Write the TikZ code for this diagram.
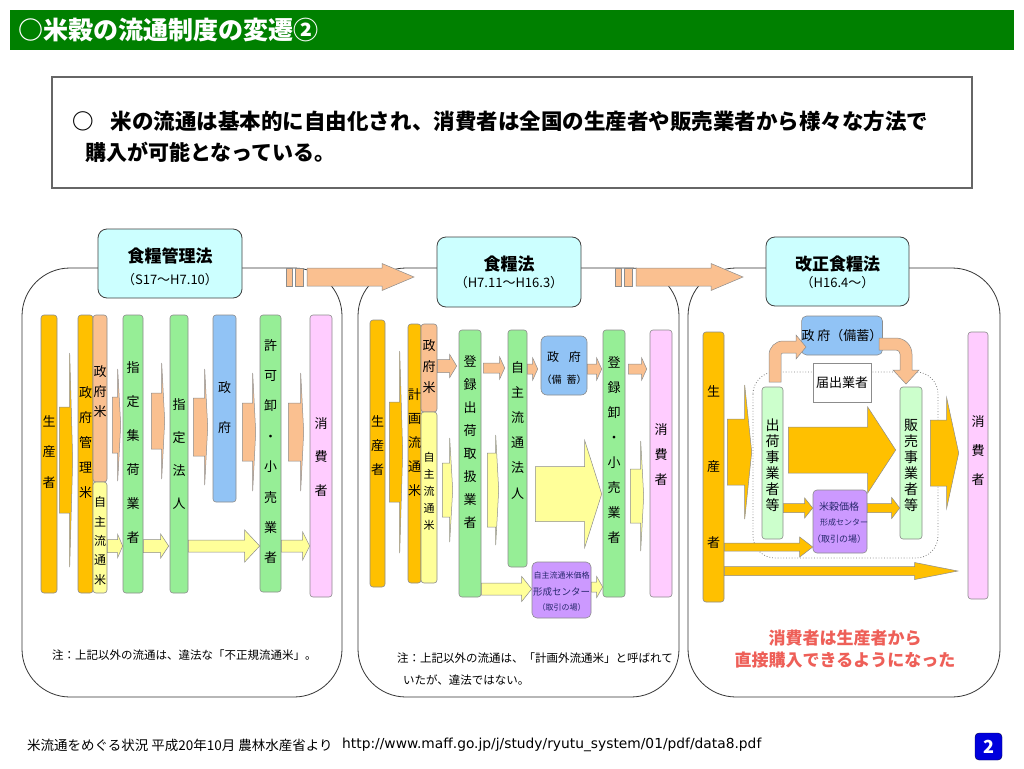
\documentclass[tikz,border=0pt]{standalone}
\usepackage{fontspec}
\setmainfont{Noto Sans CJK JP}
\newfontfamily\urlfont{DejaVu Sans}
\usetikzlibrary{calc}

\definecolor{ttlgreen}{RGB}{0,128,0}
\definecolor{orng}{RGB}{255,192,0}
\definecolor{peach}{RGB}{250,192,144}
\definecolor{lyel}{RGB}{255,255,153}
\definecolor{grn}{RGB}{150,238,150}
\definecolor{lgrn}{RGB}{204,255,204}
\definecolor{blu}{RGB}{145,195,245}
\definecolor{pnk}{RGB}{255,204,255}
\definecolor{purp}{RGB}{204,153,255}
\definecolor{cyn}{RGB}{204,255,255}
\definecolor{redtxt}{RGB}{238,95,88}
\definecolor{pgblue}{RGB}{0,0,220}
\definecolor{ctrtxt}{RGB}{40,40,110}

\tikzset{
	%bars, boxes and block arrows
	bar/.style = {draw=black!45, line width=0.6pt, rounded corners=3pt, inner sep=0pt},
	vt/.style 2 args = {align=center, inner sep=0pt, font=\fontsize{#1}{#2}\selectfont},
	flw/.style = {draw=black!45, line width=0.5pt},
	frm/.style = {draw=black!80, line width=0.8pt, rounded corners=48pt},
	hdr/.style = {draw=black!75, fill=cyn, line width=0.8pt, rounded corners=9pt, inner sep=0pt},
	note/.style = {anchor=west, inner sep=0pt, font=\fontsize{11.5}{11.5}\selectfont},
	ctr/.style = {inner sep=0pt, text=ctrtxt}
}

% bar from (x1,y1) to (x2,y2)
\newcommand\colbar[6]{%
	\node[bar, fill=#2, minimum width=#5pt-#3pt, minimum height=#6pt-#4pt]
		(#1) at ({(#3+#5)/2},{(#4+#6)/2}) {};}

% block arrow: colour, from, to, y, gap start, gap end, body half, head half, head length
\newcommand\flowarrow[9]{%
	\path[flw, fill=#1] let \p1=($(#2.east|-0,#4)+(#5,0)$), \p2=($(#3.west|-0,#4)-(#6,0)$) in
		(\x1,\y1+#7pt) -- (\x2-#9pt,\y1+#7pt) -- (\x2-#9pt,\y1+#8pt) -- (\x2,\y1)
		-- (\x2-#9pt,\y1-#8pt) -- (\x2-#9pt,\y1-#7pt) -- (\x1,\y1-#7pt) -- cycle;}

\begin{document}
\begin{tikzpicture}[x=1pt, y=-1pt]
	\useasboundingbox (0,0) rectangle (1024,768);
	\fill[white] (0,0) rectangle (1024,768);

	% title and lead
	\fill[ttlgreen] (10,10) rectangle (1014,50);
	\node[anchor=west, inner sep=0pt, text=white, font=\bfseries\fontsize{25}{25}\selectfont] (ttl) at (18,30) {○米穀の流通制度の変遷②};
	\draw[black!60, line width=1.2pt] (52,77) rectangle (972,188);
	\node[anchor=west, inner sep=0pt, font=\bfseries\fontsize{21.5}{21.5}\selectfont] (lead1) at (72,121) {○\hspace{0.8em}米の流通は基本的に自由化され、消費者は全国の生産者や販売業者から様々な方法で};
	\node[anchor=west, inner sep=0pt, font=\bfseries\fontsize{21}{21}\selectfont] (lead2) at (85,152) {購入が可能となっている。};

	% panels
	\draw[frm] (22,268) rectangle (342,697);
	\draw[frm] (358,268) rectangle (679,697);
	\draw[frm] (688,268) rectangle (1000,697);

	\foreach \x in {286,615}{
		\path[flw, fill=peach] (\x,268) rectangle (\x+6,286);
		\path[flw, fill=peach] (\x+9,268) rectangle (\x+17,286);
		\path[flw, fill=peach] (\x+21,268) -- (\x+96,268) -- (\x+96,263.5) -- (\x+128,277)
			-- (\x+96,290.5) -- (\x+96,286) -- (\x+21,286) -- cycle;
	}

	\node[hdr, minimum width=144pt, minimum height=69pt] (h1) at (170,263.5) {};
	\node[font=\bfseries\fontsize{17}{17}\selectfont] (h1t) at (170,256) {食糧管理法};
	\node[font=\fontsize{13}{13}\selectfont] (h1d) at (170,280) {（S17～H7.10）};
	\node[hdr, minimum width=144pt, minimum height=70pt] (h2) at (509,272) {};
	\node[font=\bfseries\fontsize{17}{17}\selectfont] (h2t) at (509,264) {食糧法};
	\node[font=\fontsize{13}{13}\selectfont] (h2d) at (509,283) {（H7.11～H16.3）};
	\node[hdr, minimum width=143pt, minimum height=69pt] (h3) at (837.5,271.5) {};
	\node[font=\bfseries\fontsize{17}{17}\selectfont] (h3t) at (837.5,264) {改正食糧法};
	\node[font=\fontsize{13}{13}\selectfont] (h3d) at (837.5,283) {（H16.4～）};

	% panel 1
	\colbar{p1prod}{orng}{41}{315}{57}{593}
	\colbar{p1gmr}{orng}{78}{315}{93}{593}
	\colbar{p1gov}{peach}{93}{315}{107}{482}
	\colbar{p1free}{lyel}{93}{482}{107}{593}
	\colbar{p1col}{grn}{123}{315}{143}{593}
	\colbar{p1des}{grn}{170}{315}{188}{593}
	\colbar{p1state}{blu}{213}{315}{236}{502}
	\colbar{p1whl}{grn}{260}{315}{281}{592}
	\colbar{p1con}{pnk}{310}{315}{332}{597}
	\node[vt={13}{30.5}] (p1prodt) at (p1prod |- 0,452) {生\\産\\者};
	\node[vt={13}{25}] (p1gmrt) at (p1gmr |- 0,443) {政\\府\\管\\理\\米};
	\node[vt={13}{20}] (p1govt) at (p1gov |- 0,392) {政\\府\\米};
	\node[vt={12}{19.3}] (p1freet) at (p1free |- 0,541) {自\\主\\流\\通\\米};
	\node[vt={13}{34}] (p1colt) at (p1col |- 0,453) {指\\定\\集\\荷\\業\\者};
	\node[vt={13}{32.7}] (p1dest) at (p1des |- 0,454) {指\\定\\法\\人};
	\node[vt={13}{40}] (p1statet) at (p1state |- 0,408) {政\\府};
	\node[vt={13}{30.4}] (p1whlt) at (p1whl |- 0,451.5) {許\\可\\卸\\・\\小\\売\\業\\者};
	\node[vt={13}{33.5}] (p1cont) at (p1con |- 0,457) {消\\費\\者};

	\flowarrow{orng}{p1prod}{p1gmr}{460}{2}{5}{53}{107}{3}
	\flowarrow{peach}{p1gov}{p1col}{425}{5}{2}{28}{56}{3}
	\flowarrow{lyel}{p1free}{p1col}{546}{0}{0}{6.5}{11.5}{5}
	\flowarrow{peach}{p1col}{p1des}{421}{8}{5}{28}{58}{3}
	\flowarrow{lyel}{p1col}{p1des}{546}{0}{1}{6.5}{12}{8}
	\flowarrow{peach}{p1des}{p1state}{427}{5}{5}{29}{58}{3}
	\flowarrow{peach}{p1state}{p1whl}{432}{6}{4}{29}{59}{3}
	\flowarrow{lyel}{p1des}{p1whl}{546}{0}{0}{6}{16}{15}
	\flowarrow{peach}{p1whl}{p1con}{432}{7}{6}{29}{59}{3}
	\flowarrow{lyel}{p1whl}{p1con}{546}{0}{0}{6}{14}{7}

	\node[note] (p1note) at (52,655) {注：上記以外の流通は、違法な「不正規流通米」。};

	% panel 2
	\colbar{p2prod}{orng}{370}{320}{385}{587}
	\colbar{p2plan}{orng}{408}{324}{421}{583}
	\colbar{p2gov}{peach}{421}{324}{437}{412}
	\colbar{p2free}{lyel}{421}{412}{437}{583}
	\colbar{p2reg}{grn}{459}{330}{481}{597}
	\colbar{p2corp}{grn}{508}{330}{527}{567}
	\colbar{p2whl}{grn}{603}{330}{625}{597}
	\colbar{p2con}{pnk}{650}{330}{672}{597}
	\node[bar, fill=blu, rounded corners=6pt, minimum width=46pt, minimum height=59pt] (p2state) at (564,365.5) {};
	\node[font=\fontsize{12}{12}\selectfont] (p2statet) at (564,357) {政\hspace{0.8em}府};
	\node[font=\fontsize{10}{10}\selectfont] (p2stated) at (564,380) {（備\hspace{0.5em}蓄）};
	\node[bar, fill=purp, rounded corners=5pt, minimum width=59pt, minimum height=56pt] (p2ctr) at (561.5,590) {};
	\node[ctr, font=\fontsize{8}{8}\selectfont] (p2ctr1) at (561.5,575) {自主流通米価格};
	\node[ctr, font=\fontsize{9.5}{9.5}\selectfont] (p2ctr2) at (561.5,592) {形成センター};
	\node[ctr, font=\fontsize{8}{8}\selectfont] (p2ctr3) at (561.5,607) {（取引の場）};

	\node[vt={13}{24}] (p2prodt) at (p2prod |- 0,446) {生\\産\\者};
	\node[vt={13}{24}] (p2plant) at (p2plan |- 0,443) {計\\画\\流\\通\\米};
	\node[vt={13}{21}] (p2govt) at (p2gov |- 0,367) {政\\府\\米};
	\node[vt={11}{17}] (p2freet) at (p2free |- 0,491) {自\\主\\流\\通\\米};
	\node[vt={13}{23}] (p2regt) at (p2reg |- 0,442.5) {登\\録\\出\\荷\\取\\扱\\業\\者};
	\node[vt={13}{25.2}] (p2corpt) at (p2corp |- 0,430) {自\\主\\流\\通\\法\\人};
	\node[vt={13}{25}] (p2whlt) at (p2whl |- 0,450) {登\\録\\卸\\・\\小\\売\\業\\者};
	\node[vt={13}{25}] (p2cont) at (p2con |- 0,455) {消\\費\\者};

	\flowarrow{orng}{p2prod}{p2plan}{452}{4}{5}{50}{101}{3}
	\flowarrow{peach}{p2gov}{p2reg}{366}{0}{2}{6.5}{11.5}{7}
	\flowarrow{lyel}{p2free}{p2reg}{490}{5}{6}{27}{52}{3}
	\flowarrow{peach}{p2reg}{p2corp}{368}{2}{3}{5}{11}{5}
	\flowarrow{lyel}{p2reg}{p2corp}{490}{6}{9}{37}{55}{3}
	\flowarrow{peach}{p2corp}{p2state}{369}{0}{3}{5}{11}{5}
	\flowarrow{peach}{p2state}{p2whl}{369}{0}{1}{5}{11}{5}
	\flowarrow{lyel}{p2corp}{p2whl}{494}{8}{1}{27.5}{53.5}{17}
	\flowarrow{peach}{p2whl}{p2con}{369}{3}{3}{5}{11}{5}
	\flowarrow{lyel}{p2whl}{p2con}{496}{5}{6}{27}{55}{3}
	\flowarrow{lyel}{p2reg}{p2ctr}{589}{0}{0}{6}{12.5}{10}
	\flowarrow{lyel}{p2ctr}{p2whl}{587}{0}{0}{5}{10.5}{6}

	\node[note] (p2note1) at (397,658) {注：上記以外の流通は、「計画外流通米」と呼ばれて};
	\node[note] (p2note2) at (403,680) {いたが、違法ではない。};

	% panel 3
	\draw[black!50, dotted, line width=0.8pt, rounded corners=22pt] (753,372) rectangle (938,558);
	\colbar{p3prod}{orng}{703}{332}{724}{602}
	\colbar{p3ship}{lgrn}{762}{387}{783}{539}
	\colbar{p3sell}{lgrn}{900}{387}{922}{539}
	\colbar{p3con}{pnk}{968}{332}{988}{599}
	\node[bar, fill=blu, rounded corners=5pt, minimum width=74pt, minimum height=39pt, font=\fontsize{13}{13}\selectfont] (p3state) at (842,335.5) {政 府（備蓄）};
	\node[draw=black!45, fill=white, inner sep=0pt, minimum width=58pt, minimum height=39pt, font=\fontsize{13}{13}\selectfont] (p3todoke) at (842,382.5) {届出業者};
	\node[bar, fill=purp, rounded corners=4pt, minimum width=54pt, minimum height=63pt] (p3ctr) at (840,521.5) {};
	\node[ctr, font=\fontsize{10}{10}\selectfont] (p3ctr1) at (839,507) {米穀価格};
	\node[ctr, font=\fontsize{8}{8}\selectfont] (p3ctr2) at (844,522) {形成センター};
	\node[ctr, font=\fontsize{9}{9}\selectfont] (p3ctr3) at (839,539) {（取引の場）};

	\node[vt={13}{75.5}] (p3prodt) at (p3prod |- 0,467) {生\\産\\者};
	\node[vt={14}{16}] (p3shipt) at (p3ship |- 0,465) {出\\荷\\事\\業\\者\\等};
	\node[vt={14}{16}] (p3sellt) at (p3sell |- 0,465) {販\\売\\事\\業\\者\\等};
	\node[vt={13}{29}] (p3cont) at (p3con |- 0,451) {消\\費\\者};

	\path[flw, fill=peach] (769,382) -- (769,355) arc[start angle=180, end angle=270, radius=14]
		-- (796,341) -- (796,335) -- (806,347) -- (796,359) -- (796,353) -- (783,353)
		arc[start angle=270, end angle=180, radius=2] -- (781,382) -- cycle;
	\path[flw, fill=peach] (879,338) -- (896,338) arc[start angle=270, end angle=360, radius=16]
		-- (912,370) -- (919,370) -- (906,384) -- (893,370) -- (900,370) -- (900,354)
		arc[start angle=0, end angle=-90, radius=4] -- (879,350) -- cycle;

	\flowarrow{orng}{p3prod}{p3ship}{452}{3}{10}{33}{67}{7}
	\flowarrow{orng}{p3ship}{p3sell}{450}{5}{4}{23}{43}{28}
	\flowarrow{orng}{p3sell}{p3con}{453}{8}{9}{33}{55}{12}
	\flowarrow{orng}{p3ship}{p3ctr}{508}{0}{0}{4.5}{10}{8}
	\flowarrow{orng}{p3ctr}{p3sell}{508}{0}{0}{4.5}{10.5}{8}
	\flowarrow{orng}{p3prod}{p3ctr}{547}{0}{0}{4}{10}{13}
	\flowarrow{orng}{p3prod}{p3con}{571}{0}{10}{4.5}{8.5}{43}

	\node[text=redtxt, font=\bfseries\fontsize{17}{17}\selectfont] (p3msg1) at (845,638) {消費者は生産者から};
	\node[text=redtxt, font=\bfseries\fontsize{17}{17}\selectfont] (p3msg2) at (845,660) {直接購入できるようになった};

	% footer
	\node[anchor=west, inner sep=0pt, font=\fontsize{13.5}{13.5}\selectfont] (src) at (27,745) {米流通をめぐる状況 平成20年10月 農林水産省より};
	\node[anchor=west, inner sep=0pt, font=\urlfont\fontsize{13.8}{13.8}\selectfont] (url) at (342,745) {http://www.maff.go.jp/j/study/ryutu\_system/01/pdf/data8.pdf};
	\node[draw=black!70!blue, fill=pgblue, rounded corners=4pt, minimum size=27pt, inner sep=0pt, text=white, font=\bfseries\fontsize{18}{18}\selectfont] (pg) at (988.5,746.5) {2};
\end{tikzpicture}
\end{document}
